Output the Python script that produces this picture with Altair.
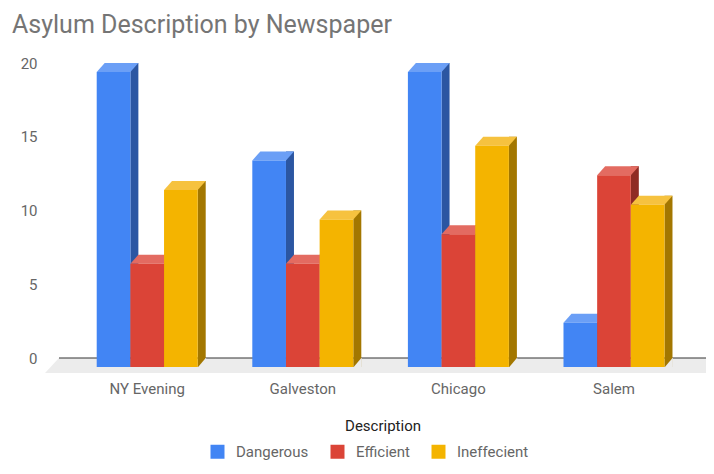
import altair as alt
import pandas as pd

# ---- data ----
newspapers = ["NY Evening", "Galveston", "Chicago", "Salem"]
descriptions = ["Dangerous", "Efficient", "Ineffecient"]
dangerous = [20, 14, 20, 3]
efficient = [7, 7, 9, 13]
ineffecient = [12, 10, 15, 11]

front_colors = ["#4285f4", "#db4437", "#f4b400"]
side_colors = ["#2b56a2", "#8f2b24", "#a37700"]
top_colors = ["#6b9ff6", "#e36b61", "#f6c23f"]
floor_color = "#ececec"

rows = []
for i, n in enumerate(newspapers):
    for d, vals in zip(descriptions, [dangerous, efficient, ineffecient]):
        rows.append({"Newspaper": n, "Description": d, "Value": vals[i]})
df = pd.DataFrame(rows)

# ---- layout (styles / sizes) ----
W, H = 647, 295
DX, DY = 8, 9
P_IN, P_OUT, ALIGN = 0.3509, 0.2546, 0.476
step = W / (len(newspapers) - P_IN + 2 * P_OUT)
bw = step * (1 - P_IN) / len(descriptions)
h = bw / 2

# symbol paths are relative to the centre of each bar's front face
top_path = f"M {-h:.2f} {DY} L {h:.2f} {DY} L {h + DX:.2f} 0 L {-h + DX:.2f} 0 Z"
cover_path = (f"M {h:.2f} {DY + 0.4} L {h + DX:.2f} 0 L {h + DX + 0.4:.2f} 0 "
              f"L {h + DX + 0.4:.2f} {DY + 0.4} Z")
floor_tri = "M 0 0 L 0 15 L -14 15 Z"

FONT = "Roboto"

x_enc = alt.X(
    "Newspaper:N",
    sort=newspapers,
    scale=alt.Scale(paddingInner=P_IN, paddingOuter=P_OUT, align=ALIGN),
    axis=alt.Axis(
        title="Description", labelAngle=0, domain=False, ticks=False,
        labelPadding=23, labelFontSize=15, labelColor="#666666", labelFont=FONT,
        titleFont=FONT, titleFontSize=15, titleColor="#222222",
        titleFontWeight="normal", titlePadding=22,
    ),
)
xo_enc = alt.XOffset("Description:N", sort=descriptions,
                     scale=alt.Scale(type="band", paddingInner=0, paddingOuter=0))
xo_side = alt.XOffset(
    "Description:N", sort=descriptions,
    scale=alt.Scale(type="band", paddingInner=0, paddingOuter=0,
                    range=[h + DX / 2, h + DX / 2 + 3 * bw]),
)
y_enc = alt.Y(
    "Value:Q",
    scale=alt.Scale(domain=[0, 20], nice=False),
    axis=alt.Axis(
        values=[0, 5, 10, 15, 20], title=None, domain=False, ticks=False,
        labelPadding=22, labelFontSize=15, labelColor="#666666", labelFont=FONT,
        gridColor="#d4d4d4", gridWidth=1,
    ),
)

base = alt.Chart(df)

one = pd.DataFrame({"k": [0]})
floor = alt.Chart(one).mark_rect(color=floor_color, y2Offset=15).encode(
    x=alt.value(0), x2=alt.value(W), y=alt.datum(0), y2=alt.datum(0)
)
floor_left = alt.Chart(one).mark_point(
    shape=floor_tri, size=4, filled=True, color=floor_color, opacity=1, strokeWidth=0
).encode(x=alt.value(0), y=alt.datum(0))
zero = alt.Chart(one).mark_rule(color="#333333", strokeWidth=1).encode(
    x=alt.value(0), x2=alt.value(W), y=alt.datum(0)
)

sides = base.mark_bar(width=DX, y2Offset=DY).encode(
    x=x_enc, xOffset=xo_side, y=y_enc, y2=alt.datum(0),
    color=alt.Color("Description:N", scale=alt.Scale(domain=descriptions, range=side_colors), legend=None),
)
covers = base.mark_point(
    shape=cover_path, size=4, filled=True, color=floor_color, opacity=1, strokeWidth=0
).encode(x=x_enc, xOffset=xo_enc, y=alt.datum(0))
tops = base.mark_point(
    shape=top_path, size=4, filled=True, opacity=1, strokeWidth=0
).encode(
    x=x_enc, xOffset=xo_enc, y=y_enc,
    color=alt.Color("Description:N", scale=alt.Scale(domain=descriptions, range=top_colors), legend=None),
)
fronts = base.mark_bar(yOffset=DY, y2Offset=DY).encode(
    x=x_enc, xOffset=xo_enc, y=y_enc, y2=alt.datum(0),
    color=alt.Color(
        "Description:N",
        scale=alt.Scale(domain=descriptions, range=front_colors),
        legend=alt.Legend(
            title=None, orient="none", legendX=151, legendY=381,
            direction="horizontal", symbolType="square", symbolSize=196,
            symbolStrokeWidth=0, labelFont=FONT, labelFontSize=15,
            labelColor="#666666", labelOffset=11, columnPadding=21,
        ),
    ),
)

chart = (
    alt.layer(floor, floor_left, zero, sides, covers, tops, fronts)
    .resolve_scale(color="independent", xOffset="independent")
    .properties(
        width=W, height=H,
        autosize=alt.AutoSizeParams(type="none"),
        padding={"left": 51, "top": 55, "right": 0, "bottom": 105},
        title=alt.TitleParams(
            "Asylum Description by Newspaper", anchor="start", frame="group",
            font=FONT, fontSize=25, fontWeight="normal", color="#757575",
            dx=-47, dy=24, baseline="alphabetic", offset=22,
        ),
    )
    .configure_view(stroke=None)
)

chart.save("out.html", embed_options={"renderer": "svg", "actions": False})
